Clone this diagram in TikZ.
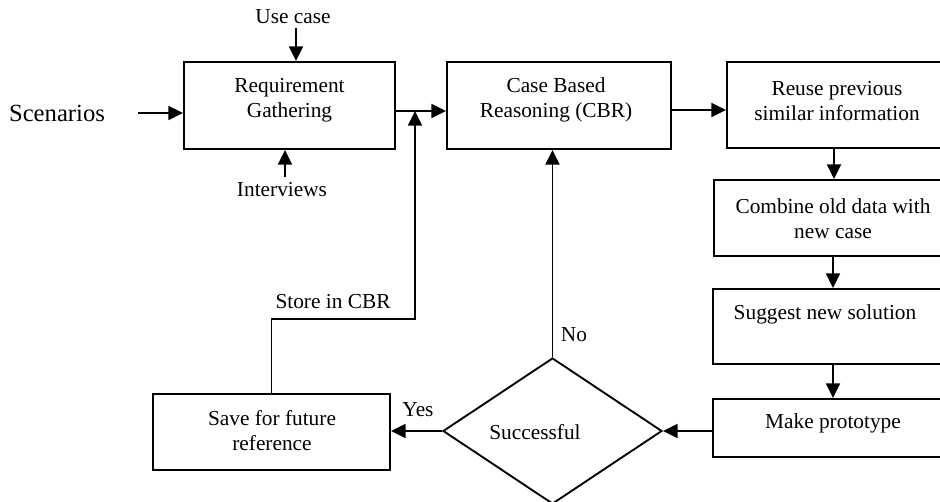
\documentclass[tikz,border=0pt]{standalone}
\usepackage{fontspec}
\setmainfont{Liberation Serif}
\usetikzlibrary{arrows.meta,shapes.geometric}
\begin{document}
\begin{tikzpicture}[x=0.75pt,y=-0.75pt,
  every node/.style={font=\fontsize{16}{18.75}\selectfont},
  box/.style={draw,line width=1.4pt,rectangle,inner sep=0pt,align=center},
  lbl/.style={inner sep=0pt,align=center},
  arr/.style={line width=1.4pt,-{Triangle[length=11pt,width=10.5pt]}},
  ln/.style={line width=1.4pt}]
\useasboundingbox (0,0) rectangle (940,502);
\clip (0,0) rectangle (940,502);
% boxes
\node[box,minimum width=158.25pt,minimum height=65.25pt] (RG) at (289.5,105.5) {};
\node[lbl] (RGt) at (289.5,100) {Requirement\\Gathering};
\node[box,minimum width=168pt,minimum height=65.25pt] (CBR) at (559,105.5) {};
\node[lbl] (CBRt) at (556,100) {Case Based\\Reasoning (CBR)};
\node[box,minimum width=163.5pt,minimum height=64.5pt] (RU) at (836,105) {};
\node[lbl] (RUt) at (837,101) {Reuse previous\\similar information};
\node[box,minimum width=173.25pt,minimum height=57pt] (CO) at (829.5,218) {};
\node[lbl] (COt) at (833,219) {Combine old data with\\new case};
\node[box,minimum width=174pt,minimum height=56.25pt] (SU) at (829,326.5) {};
\node[lbl] (SUt) at (825,314) {Suggest new solution};
\node[box,minimum width=174pt,minimum height=43.5pt] (MP) at (829,428) {};
\node[lbl] (MPt) at (833,423) {Make prototype};
\node[box,minimum width=177.75pt,minimum height=57pt] (SA) at (271.5,432) {};
\node[lbl] (SAt) at (272,431) {Save for future\\reference};
\node[draw,line width=1.4pt,diamond,aspect=1.5,minimum width=164.25pt,minimum height=109.5pt,inner sep=0pt] (D) at (552.5,431) {};
\node[lbl] (Dt) at (535,432) {Successful};
% free labels
\node[lbl,font=\fontsize{18.5}{20}\selectfont] (SC) at (57,113) {Scenarios};
\node[lbl] (UC) at (293,17) {Use case};
\node[lbl] (IV) at (282,190) {Interviews};
\node[lbl] (ST) at (333,302) {Store in CBR};
\node[lbl] (NO) at (574,335) {No};
\node[lbl] (YE) at (418,410) {Yes};
% coordinates
\coordinate (sa) at (138,113);
\coordinate (ua) at (296,28);
\coordinate (ia) at (285,177);
\coordinate (j0) at (395,111);
\coordinate (jn) at (415,111);
\coordinate (st) at (415,319);
\coordinate (c0) at (671,110);
\coordinate (r0) at (834,148);
\coordinate (co0) at (833,256);
\coordinate (su0) at (833,364);
\coordinate (mp0) at (713,431);
% connectors
\draw[arr] (sa) -- (sa -| RG.west);
\draw[arr] (ua) -- (ua |- RG.north);
\draw[arr] (ia) -- (ia |- RG.south);
\draw[arr] (j0) -- (j0 -| CBR.west);
\draw[arr] (SA.north) |- (st) -- (jn);
\draw[arr] (c0) -- (c0 -| RU.west);
\draw[arr] (r0) -- (r0 |- CO.north);
\draw[arr] (co0) -- (co0 |- SU.north);
\draw[arr] (su0) -- (su0 |- MP.north);
\draw[arr] (mp0) -- (D.east);
\draw[arr] (D.north) -- (D.north |- CBR.south);
\draw[arr] (D.west) -- (D.west -| SA.east);
\end{tikzpicture}
\end{document}
